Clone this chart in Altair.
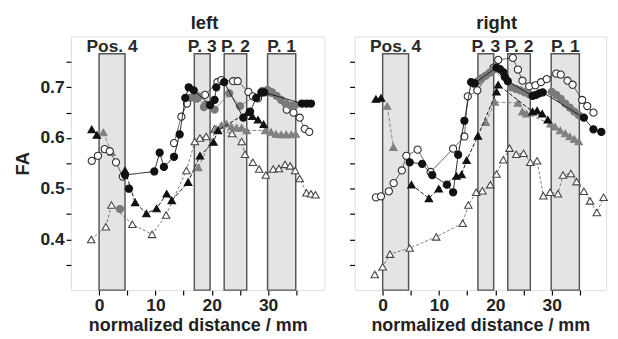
import altair as alt
import pandas as pd

# ---------------- data ----------------
# LEFT panel  (segments that are not joined in the reference get their own id)
L_A_x = [4.6, 9.8, 10.75, 11.5, 13.3, 14.3, 15.3, 15.9, 16.8, 19.7, 20.5, 20.8, 22.2, 25.6, 26.8, 27.9, 28.8, 29.3, 36.0, 36.8, 37.6]
L_A_y = [0.527, 0.534, 0.571, 0.543, 0.563, 0.607, 0.679, 0.700, 0.694, 0.665, 0.675, 0.700, 0.710, 0.640, 0.652, 0.679, 0.690, 0.690, 0.668, 0.668, 0.668]
L_A2_x = [5.3]
L_A2_y = [0.500]
L_B_x = [-1.3, -0.2, 1.0, 1.9, 3.0, 4.2]
L_B_y = [0.555, 0.565, 0.578, 0.574, 0.552, 0.524]
L_B2_x = [13.3, 14.6, 15.6, 17.3, 18.8, 21.0, 21.7, 23.8, 24.6, 26.5, 27.3, 28.2, 30.5, 33.3, 34.5, 35.6, 36.5, 37.3]
L_B2_y = [0.590, 0.642, 0.668, 0.678, 0.685, 0.710, 0.714, 0.712, 0.712, 0.691, 0.682, 0.678, 0.690, 0.656, 0.650, 0.640, 0.618, 0.612]
L_C_x = [16.2, 17.0, 17.7, 18.6, 19.0, 20.5, 23.1, 25.0, 29.0, 29.9, 30.7, 31.5, 32.3, 33.1, 34.0, 34.8]
L_C_y = [0.679, 0.679, 0.682, 0.661, 0.666, 0.656, 0.688, 0.663, 0.693, 0.695, 0.690, 0.683, 0.675, 0.668, 0.664, 0.665]
L_C2_x = [3.7]
L_C2_y = [0.460]
L_D_x = [-1.3, -0.4]
L_D_y = [0.617, 0.606]
L_D2_x = [4.6, 6.4, 8.4, 10.2, 12.0, 12.9, 15.8, 17.9, 20.3, 21.1, 26.4, 27.2, 28.2, 29.2]
L_D2_y = [0.536, 0.473, 0.451, 0.461, 0.490, 0.477, 0.513, 0.565, 0.592, 0.615, 0.651, 0.643, 0.636, 0.627]
L_E_x = [0.75, 2.2]
L_E_y = [0.611, 0.572]
L_E2_x = [17.6, 20.8, 21.7, 22.6, 23.5, 24.4, 25.3, 26.2, 29.5, 30.5, 31.4, 32.3, 33.2, 34.1, 34.9]
L_E2_y = [0.542, 0.617, 0.625, 0.628, 0.622, 0.620, 0.620, 0.615, 0.615, 0.612, 0.608, 0.607, 0.607, 0.607, 0.608]
L_F_x = [-1.4, 1.2, 2.2, 5.9, 9.4, 11.9, 15.5, 17.0, 17.9, 19.0, 20.5, 23.6, 25.3, 25.9, 27.3, 28.4, 29.6, 30.9, 31.9, 33.0, 33.9, 34.8, 35.6, 36.8, 37.6, 38.4]
L_F_y = [0.400, 0.425, 0.468, 0.430, 0.410, 0.448, 0.536, 0.593, 0.600, 0.603, 0.618, 0.609, 0.593, 0.568, 0.552, 0.539, 0.527, 0.539, 0.540, 0.548, 0.545, 0.536, 0.520, 0.492, 0.490, 0.488]

# RIGHT panel
R_A_x = [4.8, 7.0, 8.8, 11.4, 12.5, 13.4, 14.5, 15.7, 16.3, 20.2, 20.8, 21.4, 21.7, 22.2, 26.6, 27.2, 27.8, 28.4, 35.7, 37.4, 38.8]
R_A_y = [0.552, 0.549, 0.527, 0.508, 0.493, 0.567, 0.634, 0.710, 0.708, 0.739, 0.736, 0.730, 0.720, 0.712, 0.683, 0.685, 0.688, 0.690, 0.640, 0.617, 0.612]
R_B_x = [-1.2, -0.3, 1.1, 1.95, 3.4, 4.2, 6.2, 8.5, 12.5, 14.5, 15.1, 16.8, 19.7, 20.5, 23.1, 24.0, 24.8, 26.0, 27.1, 28.1, 29.1, 30.8, 31.6, 32.8, 33.7, 35.4, 36.3, 37.4]
R_B_y = [0.483, 0.485, 0.495, 0.511, 0.536, 0.565, 0.577, 0.533, 0.579, 0.603, 0.682, 0.694, 0.739, 0.754, 0.758, 0.735, 0.713, 0.702, 0.704, 0.710, 0.716, 0.727, 0.725, 0.713, 0.705, 0.675, 0.663, 0.650]
R_C_x = [16.2, 16.9, 17.6, 18.3, 19.0, 19.7, 22.8, 23.6, 24.4, 25.2, 26.0, 30.0, 30.8, 31.6, 32.4, 33.2, 34.0, 34.8]
R_C_y = [0.707, 0.712, 0.718, 0.723, 0.729, 0.735, 0.700, 0.697, 0.694, 0.690, 0.686, 0.691, 0.685, 0.677, 0.668, 0.660, 0.652, 0.645]
R_D_x = [-1.2, -0.3]
R_D_y = [0.677, 0.679]
R_D2_x = [5.1, 8.2, 9.95, 13.1, 14.0, 14.9, 16.9, 20.2, 20.5, 26.6, 27.4, 28.3, 29.3]
R_D2_y = [0.508, 0.481, 0.500, 0.525, 0.528, 0.556, 0.604, 0.691, 0.705, 0.652, 0.654, 0.648, 0.636]
R_E_x = [0.8, 1.9]
R_E_y = [0.663, 0.582]
R_E2_x = [18.3, 19.9, 24.0, 24.8, 25.5, 29.8, 30.6, 31.5, 32.4, 33.2, 34.0, 34.8]
R_E2_y = [0.631, 0.671, 0.669, 0.652, 0.648, 0.628, 0.622, 0.615, 0.609, 0.603, 0.598, 0.593]
R_F_x = [-1.4, 0.0, 1.3, 4.8, 9.5, 14.2, 15.2, 16.6, 17.7, 19.1, 20.2, 21.4, 22.5, 23.7, 25.0, 26.2, 27.4, 28.5, 29.7, 31.1, 32.0, 33.4, 34.4, 35.7, 36.8, 38.0, 39.2]
R_F_y = [0.331, 0.346, 0.371, 0.383, 0.405, 0.432, 0.468, 0.493, 0.496, 0.508, 0.529, 0.557, 0.580, 0.568, 0.570, 0.552, 0.555, 0.486, 0.493, 0.490, 0.527, 0.530, 0.514, 0.495, 0.476, 0.453, 0.483]

# shaded positions
band_names = ["Pos. 4", "P. 3", "P. 2", "P. 1"]
band_start = [0.0, 16.9, 22.2, 29.9]
band_end = [4.6, 19.7, 26.2, 34.9]
band_top = 0.766

panel_names = ["left", "right"]
title_dx = [7, 17]
panel_width = [262, 260]
x_max = [40.0, 39.65]   # right panel is cut by the picture's edge

# ---------------- table ----------------
series_data = {
    "left": {"A": (L_A_x, L_A_y), "A2": (L_A2_x, L_A2_y), "B": (L_B_x, L_B_y), "B2": (L_B2_x, L_B2_y),
             "C": (L_C_x, L_C_y), "C2": (L_C2_x, L_C2_y), "D": (L_D_x, L_D_y), "D2": (L_D2_x, L_D2_y),
             "E": (L_E_x, L_E_y), "E2": (L_E2_x, L_E2_y), "F": (L_F_x, L_F_y)},
    "right": {"A": (R_A_x, R_A_y), "B": (R_B_x, R_B_y), "C": (R_C_x, R_C_y),
              "D": (R_D_x, R_D_y), "D2": (R_D2_x, R_D2_y), "E": (R_E_x, R_E_y), "E2": (R_E2_x, R_E2_y),
              "F": (R_F_x, R_F_y)},
}
rows = []
for panel, ser in series_data.items():
    for name, (xs, ys) in ser.items():
        style = name[0]
        for x, y in zip(xs, ys):
            rows.append({"panel": panel, "style": style, "line_id": name, "x": x, "y": y})
df = pd.DataFrame(rows)

bands = pd.DataFrame({"name": band_names, "x0": band_start, "x1": band_end,
                      "mid": [(a + b) / 2 for a, b in zip(band_start, band_end)]})
bands["y0"] = 0.3
bands["y1"] = band_top
bands["ylab"] = 0.7695

styles = {
    "A": dict(shape="circle", fill="#111111", stroke="#111111", line="#111111", dash=[1, 0], lw=1.0),
    "B": dict(shape="circle", fill="white", stroke="#2a2a2a", line="#2a2a2a", dash=[1, 0], lw=0.8),
    "C": dict(shape="circle", fill="#7a7a7a", stroke="#7a7a7a", line="#7a7a7a", dash=[1, 0], lw=1.0),
    "D": dict(shape="triangle-up", fill="#111111", stroke="#111111", line="#111111", dash=[4, 2], lw=1.0),
    "E": dict(shape="triangle-up", fill="#808080", stroke="#808080", line="#808080", dash=[4, 2], lw=1.0),
    "F": dict(shape="triangle-up", fill="white", stroke="#444444", line="#555555", dash=[3, 2], lw=0.8),
}

FONT = "Liberation Sans"

y_scale = alt.Scale(domain=[0.3, 0.8], nice=False, zero=False)
y_vals = [0.35, 0.4, 0.45, 0.5, 0.55, 0.6, 0.65, 0.7, 0.75]
x_vals = [0, 5, 10, 15, 20, 25, 30, 35]
y_label_expr = ("indexof(['0.40', '0.50', '0.60', '0.70'], datum.label) >= 0 ? "
                "substring(datum.label, 0, 3) : ''")


def make_panel(panel, idx):
    show_y = panel == "left"
    x_scale = alt.Scale(domain=[-5, x_max[idx]], nice=False, zero=False)
    x_axis = alt.Axis(values=x_vals, tickCount=len(x_vals),
                      labelExpr="datum.value % 10 === 0 ? datum.label : ''",
                      title="normalized distance / mm", grid=False, domain=False,
                      tickColor="black", tickSize=5, tickWidth=1.2,
                      labelFont=FONT, labelFontSize=18, labelFontWeight="bold", labelColor="#222",
                      labelPadding=2, titleFont=FONT, titleFontSize=18.5, titleFontWeight="bold",
                      titleColor="#222", titlePadding=2)
    if show_y:
        y_axis = alt.Axis(values=y_vals, tickCount=len(y_vals), format=".2f", labelExpr=y_label_expr,
                          title="FA", grid=False, domain=False, tickColor="black", tickSize=5, tickWidth=1.2,
                          labelFont=FONT, labelFontSize=18, labelFontWeight="bold", labelColor="#222",
                          labelPadding=2, titleFont=FONT, titleFontSize=19, titleFontWeight="bold",
                          titleColor="#222", titlePadding=8)
    else:
        y_axis = alt.Axis(values=y_vals, tickCount=len(y_vals), labels=False, title=None, grid=False,
                          domain=False, tickColor="black", tickSize=5, tickWidth=1.2)

    band_rect = alt.Chart(bands).mark_rect(fill="#e4e4e4", stroke="#555555", strokeWidth=1.5).encode(
        x=alt.X("x0:Q", scale=x_scale, axis=x_axis),
        x2="x1:Q",
        y=alt.Y("y0:Q", scale=y_scale, axis=y_axis),
        y2="y1:Q",
    )
    band_text = alt.Chart(bands).mark_text(font=FONT, fontSize=18, fontWeight="bold", color="#2a2a2a",
                                           baseline="alphabetic", align="center").encode(
        x=alt.X("mid:Q", scale=x_scale), y=alt.Y("ylab:Q", scale=y_scale), text="name:N")

    layers = [band_rect, band_text]
    pdata = df[df.panel == panel]
    for key in ["F", "E", "D", "B", "C", "A"]:
        st = styles[key]
        sub = pdata[pdata["style"] == key]
        if sub.empty:
            continue
        base = alt.Chart(sub)
        line = base.mark_line(color=st["line"], strokeWidth=st["lw"], strokeDash=st["dash"]).encode(
            x=alt.X("x:Q", scale=x_scale), y=alt.Y("y:Q", scale=y_scale),
            detail="line_id:N", order="x:Q")
        pts = base.mark_point(shape=st["shape"], filled=True, fill=st["fill"], stroke=st["stroke"],
                              strokeWidth=1.1, opacity=1,
                              size=55 if st["shape"] == "circle" else 60).encode(
            x=alt.X("x:Q", scale=x_scale), y=alt.Y("y:Q", scale=y_scale))
        layers += [line, pts]

    return alt.layer(*layers).properties(
        width=panel_width[idx], height=262,
        title=alt.TitleParams(panel, font=FONT, fontSize=19, fontWeight="bold", color="#222",
                              anchor="middle", dx=title_dx[idx], offset=4),
    )


panels = [make_panel(p, i) for i, p in enumerate(panel_names)]

chart = alt.hconcat(*panels, spacing=23).properties(
    padding={"left": 5, "top": 0, "right": 0, "bottom": 0}
).configure_view(
    stroke="#111111", strokeWidth=1.5
).configure_axis(
    labelOverlap=False
).configure(background="white")

chart.save("out.html", embed_options={"renderer": "svg", "actions": False})
